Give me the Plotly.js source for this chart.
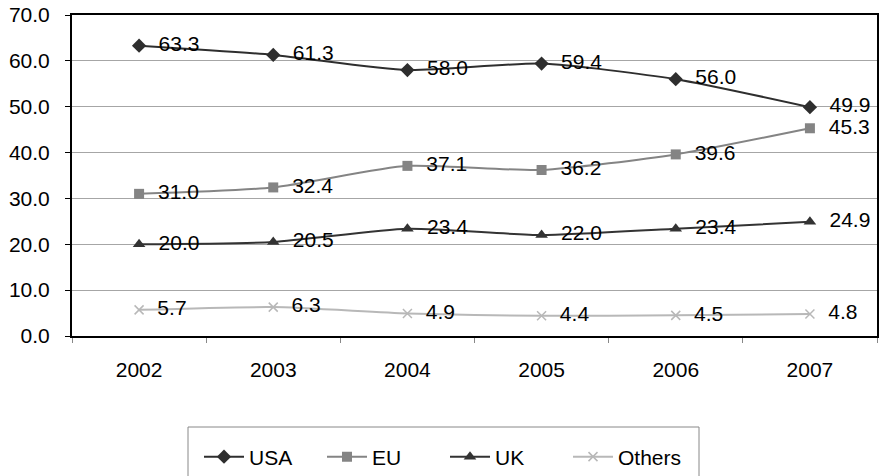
<!DOCTYPE html>
<html>
<head>
<meta charset="utf-8">
<script src="https://cdn.plot.ly/plotly-3.0.1.min.js"></script>
<style>
html,body{margin:0;padding:0;background:#fff;}
#chart{width:880px;height:476px;}
</style>
</head>
<body>
<div id="chart"></div>
<script>
const years = ['2002','2003','2004','2005','2006','2007'];
const usa = [63.3, 61.3, 58.0, 59.4, 56.0, 49.9];
const eu = [31.0, 32.4, 37.1, 36.2, 39.6, 45.3];
const uk = [20.0, 20.5, 23.4, 22.0, 23.4, 24.9];
const others = [5.7, 6.3, 4.9, 4.4, 4.5, 4.8];
const seriesNames = ['USA', 'EU', 'UK', 'Others'];

const FONT = 'Liberation Sans, Arial, sans-serif';
const FS = 21;
const styles = [
  {color:'#2e2e2e', symbol:'diamond', size:11},
  {color:'#848484', symbol:'square', size:10},
  {color:'#333333', symbol:'triangle-up', size:11},
  {color:'#b8b8b8', symbol:'x-thin-open', size:9}
];
const data = [usa, eu, uk, others];

const traces = data.map((vals, i) => ({
  x: years,
  y: vals,
  name: seriesNames[i],
  type: 'scatter',
  mode: 'lines+markers+text',
  text: vals.map(v => '  ' + v.toFixed(1)),
  textposition: 'middle right',
  textfont: {family: FONT, size: FS, color: '#000'},
  line: {color: styles[i].color, width: 2, shape: 'spline', smoothing: 0.6},
  marker: {color: styles[i].color, symbol: styles[i].symbol, size: styles[i].size,
           line: {color: styles[i].color, width: styles[i].symbol === 'x-thin-open' ? 1.5 : 0}},
  cliponaxis: false
}));

const layout = {
  width: 880, height: 476,
  margin: {l: 72, r: 3, t: 15, b: 140, autoexpand: false},
  paper_bgcolor: '#fff', plot_bgcolor: '#fff',
  font: {family: FONT, size: FS, color: '#000'},
  showlegend: true,
  legend: {
    orientation: 'h', x: (445 - 72) / 805, xanchor: 'center', y: -(457 - 336) / 321, yanchor: 'middle',
    font: {family: FONT, size: FS, color: '#000'}, bgcolor: 'rgba(0,0,0,0)', borderwidth: 0,
    itemwidth: 40, entrywidth: 68
  },
  xaxis: {
    type: 'category', range: [-0.5, 5.5],
    showline: true, linecolor: '#000', linewidth: 2, mirror: true,
    ticks: 'outside', tickson: 'boundaries', ticklen: 5, tickcolor: '#888', tickwidth: 1,
    ticklabelstandoff: 14,
    showgrid: false, zeroline: false,
    tickfont: {family: FONT, size: FS, color: '#000'}
  },
  yaxis: {
    range: [0, 70], dtick: 10, tickformat: '.1f',
    showline: true, linecolor: '#000', linewidth: 2, mirror: true,
    ticks: 'outside', ticklen: 5, tickcolor: '#000', tickwidth: 1,
    ticklabelstandoff: 11,
    showgrid: true, gridcolor: '#a6a6a6', gridwidth: 1, zeroline: false,
    tickfont: {family: FONT, size: FS, color: '#000'}
  },
  shapes: [{
    type: 'rect', xref: 'paper', yref: 'paper',
    x0: (188 - 72) / 805, x1: (699 - 72) / 805,
    y0: -(478 - 336) / 321, y1: -(427 - 336) / 321,
    line: {color: '#888', width: 1}, fillcolor: 'rgba(0,0,0,0)'
  }]
};

Plotly.newPlot('chart', traces, layout, {displayModeBar: false, staticPlot: true});
</script>
</body>
</html>
